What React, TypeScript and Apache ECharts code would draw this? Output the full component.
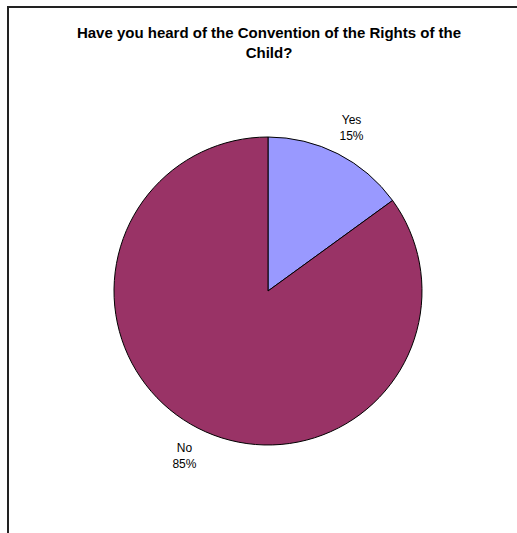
import React, { useEffect, useRef } from "react";
import * as echarts from "echarts";

const titleText = "Have you heard of the Convention of the Rights of the\nChild?";
const categories = ["Yes", "No"];
const values = [15, 85];
const sliceColors = ["#9999FF", "#993366"];

export default function App() {
  const ref = useRef<HTMLDivElement>(null);

  useEffect(() => {
    if (!ref.current) return;
    const chart = echarts.init(ref.current, null, { renderer: "svg" });
    const data = categories.map((name, i) => ({
      name,
      value: values[i],
      itemStyle: { color: sliceColors[i] },
    }));
    chart.setOption({
      animation: false,
      backgroundColor: "#ffffff",
      title: {
        text: titleText,
        left: 264,
        top: 17,
        textAlign: "center",
        textStyle: {
          fontFamily: "Liberation Sans, Arial, sans-serif",
          fontSize: 15,
          fontWeight: "bold",
          color: "#000",
          lineHeight: 20,
          align: "center",
        },
      },
      graphic: [
        {
          type: "rect",
          shape: { x: 8, y: 7, width: 600, height: 600 },
          style: { fill: "none", stroke: "#222", lineWidth: 2 },
          silent: true,
        },
      ],
      series: [
        {
          type: "pie",
          center: [268, 291],
          radius: 154,
          startAngle: 90,
          clockwise: true,
          silent: true,
          label: { show: false },
          labelLine: { show: false },
          itemStyle: { borderColor: "#000", borderWidth: 1 },
          data,
        },
        {
          // invisible ring used only to place the category labels outside the pie
          type: "pie",
          center: [268, 292],
          radius: [170, 192],
          startAngle: 90,
          clockwise: true,
          silent: true,
          itemStyle: { color: "transparent", borderWidth: 0 },
          label: {
            show: true,
            position: "inside",
            formatter: "{b}\n{d}%",
            fontFamily: "Liberation Sans, Arial, sans-serif",
            fontSize: 12,
            lineHeight: 16,
            color: "#000",
            align: "center",
          },
          labelLine: { show: false },
          data: categories.map((name, i) => ({ name, value: values[i] })),
        },
      ],
    });
    return () => chart.dispose();
  }, []);

  return (
    <div
      ref={ref}
      style={{ position: "fixed", left: 0, top: 0, width: 517, height: 533 }}
    />
  );
}
